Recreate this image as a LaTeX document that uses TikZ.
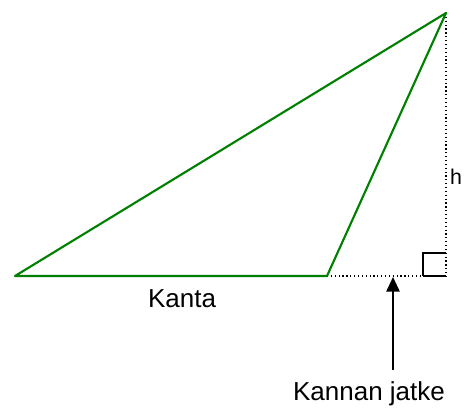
\documentclass[tikz,border=0pt]{standalone}
\usepackage{fontspec}
\setmainfont{Liberation Sans}
\usetikzlibrary{arrows.meta}
\definecolor{sidegreen}{RGB}{0,128,0}
\tikzset{
  side/.style  ={draw=sidegreen, line width=1.6pt, line join=round},
  aux/.style   ={draw=black, dotted, line width=0.9pt},
  rmark/.style ={draw=black, line width=1.2pt},
  arr/.style   ={-{Triangle[length=11pt,width=10pt]}, line width=1.3pt, draw=black},
  lbl/.style   ={font=\fontsize{19.5}{22}\selectfont, inner sep=0pt},
}
\begin{document}
\begin{tikzpicture}[x=0.75pt,y=-0.75pt]
  \useasboundingbox (0,0) rectangle (464,412);

  % vertices
  \coordinate (A) at (15,276);
  \coordinate (B) at (327,276);
  \coordinate (C) at (446,13);
  \coordinate (F) at (446,276);

  % extension of base and height
  \draw[aux] (B) -- (F);
  \draw[aux] (C) -- (F);

  % right angle mark
  \coordinate (Q) at (423,276);
  \coordinate (R) at (446,253);
  \draw[rmark] (Q) |- (R);
  \draw[rmark] (Q) -- (F);

  % triangle
  \draw[side] (A) -- (B) -- (C) -- cycle;

  % labels
  \node[lbl] (kanta) at (182,299) {Kanta};
  \node[lbl, font=\fontsize{16}{18}\selectfont] (h) at (456,177) {h};
  \node[lbl] (jatke) at (369,394) {Kannan jatke};

  % arrow to the extension
  \coordinate (tip) at (393,277);
  \coordinate (tail) at (393,370);
  \draw[arr] (tail) -- (tip);
\end{tikzpicture}
\end{document}
